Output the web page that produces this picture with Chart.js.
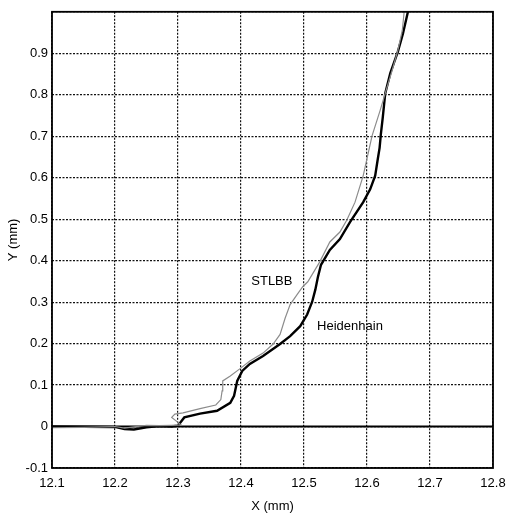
<!DOCTYPE html>
<html>
<head>
<meta charset="utf-8">
<script src="https://cdn.jsdelivr.net/npm/chart.js@4/dist/chart.umd.min.js"></script>
<style>
  html, body { margin: 0; padding: 0; background: #fff; }
  canvas { display: block; }
</style>
</head>
<body>
<canvas id="profileChart" width="507" height="519"></canvas>
<script>
  // Traced profile data (X and Y in mm)
  const heidX = [12.1, 12.2, 12.215, 12.23, 12.25, 12.27, 12.29, 12.3, 12.305, 12.31, 12.335, 12.362, 12.383, 12.389, 12.394, 12.402, 12.414, 12.435, 12.462, 12.478, 12.494, 12.505, 12.513, 12.518, 12.522, 12.527, 12.541, 12.557, 12.573, 12.594, 12.605, 12.613, 12.617, 12.62, 12.622, 12.625, 12.629, 12.637, 12.649, 12.657, 12.665];
  const heidY = [0, -0.001, -0.006, -0.007, -0.002, 0.001, 0.0, 0.002, 0.012, 0.022, 0.031, 0.038, 0.057, 0.074, 0.11, 0.134, 0.151, 0.17, 0.199, 0.218, 0.242, 0.27, 0.301, 0.33, 0.36, 0.39, 0.426, 0.452, 0.493, 0.541, 0.572, 0.605, 0.644, 0.672, 0.705, 0.745, 0.804, 0.852, 0.904, 0.947, 1.0];

  const stlX = [12.1, 12.15, 12.2, 12.215, 12.23, 12.25, 12.27, 12.29, 12.305, 12.29, 12.295, 12.308, 12.335, 12.36, 12.368, 12.37, 12.371, 12.383, 12.398, 12.414, 12.435, 12.451, 12.462, 12.47, 12.478, 12.489, 12.498, 12.506, 12.525, 12.541, 12.557, 12.568, 12.581, 12.594, 12.608, 12.621, 12.629, 12.64, 12.649, 12.656, 12.659];
  const stlY = [-0.003, -0.002, 0.0, -0.004, -0.001, 0.003, 0.002, 0.003, 0.004, 0.022, 0.03, 0.033, 0.043, 0.052, 0.065, 0.086, 0.11, 0.122, 0.139, 0.158, 0.177, 0.199, 0.222, 0.261, 0.294, 0.318, 0.337, 0.349, 0.397, 0.445, 0.469, 0.498, 0.541, 0.605, 0.701, 0.763, 0.804, 0.859, 0.907, 0.955, 1.0];

  const xMin = 12.1, xMax = 12.8, xStep = 0.1;
  const yMin = -0.1, yMax = 1.0, yStep = 0.1;

  const toPoints = (xs, ys) => xs.map((x, i) => ({ x: x, y: ys[i] }));
  const fmt = v => {
    const r = Math.round(v * 10) / 10;
    return r === 0 ? '0' : r.toFixed(1);
  };
  const font13 = { family: '"Liberation Sans", Arial, sans-serif', size: 13 };

  // Frame, zero line and curve labels
  const framePlugin = {
    id: 'frame',
    beforeDatasetsDraw(chart) {
      const { ctx, chartArea, scales } = chart;
      const y0 = scales.y.getPixelForValue(0);
      ctx.save();
      ctx.strokeStyle = '#000';
      ctx.lineWidth = 2;
      ctx.beginPath();
      ctx.moveTo(chartArea.left, y0);
      ctx.lineTo(chartArea.right, y0);
      ctx.stroke();
      ctx.restore();
    },
    afterDraw(chart) {
      const { ctx, chartArea, scales } = chart;
      ctx.save();
      ctx.strokeStyle = '#000';
      ctx.lineWidth = 1.8;
      ctx.strokeRect(chartArea.left, chartArea.top, chartArea.right - chartArea.left, chartArea.bottom - chartArea.top);
      ctx.fillStyle = '#000';
      ctx.font = '13px "Liberation Sans", Arial, sans-serif';
      ctx.textAlign = 'center';
      ctx.textBaseline = 'middle';
      ctx.fillText('STLBB', scales.x.getPixelForValue(12.449), scales.y.getPixelForValue(0.349));
      ctx.fillText('Heidenhain', scales.x.getPixelForValue(12.573), scales.y.getPixelForValue(0.242));
      ctx.restore();
    }
  };

  const ctx = document.getElementById('profileChart').getContext('2d');

  const chartConfig = {
    type: 'scatter',
    data: {
      datasets: [
        {
          label: 'STLBB',
          data: toPoints(stlX, stlY),
          showLine: true,
          borderColor: '#8c8c8c',
          borderWidth: 1.2,
          pointRadius: 0,
          tension: 0
        },
        {
          label: 'Heidenhain',
          data: toPoints(heidX, heidY),
          showLine: true,
          borderColor: '#000',
          borderWidth: 2.4,
          pointRadius: 0,
          tension: 0
        }
      ]
    },
    options: {
      responsive: false,
      animation: false,
      layout: { padding: { left: 0, right: 14, top: 5, bottom: 0 } },
      plugins: {
        legend: { display: false },
        tooltip: { enabled: false }
      },
      scales: {
        x: {
          type: 'linear',
          min: xMin,
          max: xMax,
          afterFit: scale => {
            scale.height = 51;
            scale.paddingLeft = 0;
            scale.paddingRight = 0;
          },
          ticks: {
            stepSize: xStep,
            color: '#000',
            padding: 8,
            maxRotation: 0,
            font: font13,
            callback: v => fmt(v)
          },
          grid: { color: '#111', lineWidth: 1.2, drawTicks: false },
          border: { display: false, dash: [2, 1.5] },
          title: {
            display: true,
            text: 'X (mm)',
            color: '#000',
            font: font13,
            padding: { top: 0, bottom: 5 }
          }
        },
        y: {
          type: 'linear',
          min: yMin,
          max: yMax,
          afterFit: scale => { scale.width = 52; },
          ticks: {
            stepSize: yStep,
            color: '#000',
            padding: 4,
            font: font13,
            callback: v => (Math.round(v * 10) / 10 >= 1 ? '' : fmt(v))
          },
          grid: { color: '#111', lineWidth: 1.2, drawTicks: false },
          border: { display: false, dash: [2, 1.5] },
          title: {
            display: true,
            text: 'Y (mm)',
            color: '#000',
            font: font13,
            padding: { top: 6, bottom: 0 }
          }
        }
      }
    },
    plugins: [framePlugin]
  };

  const profileChart = new Chart(ctx, chartConfig);
</script>
</body>
</html>
